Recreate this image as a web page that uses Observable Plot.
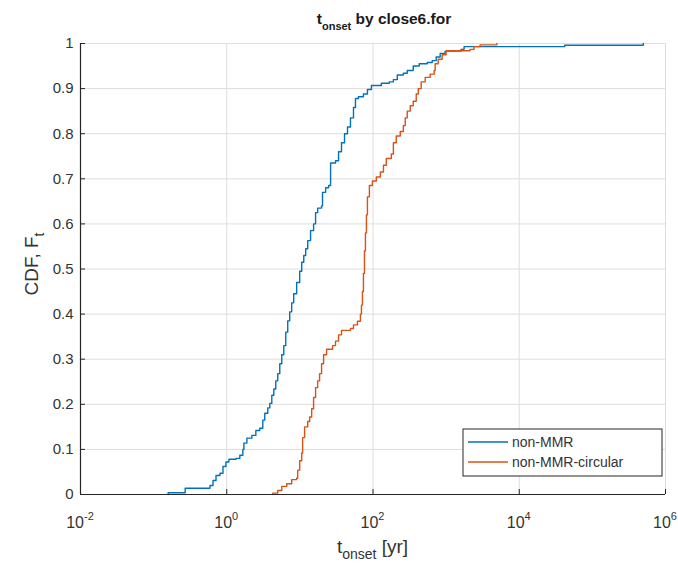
<!DOCTYPE html>
<html>
<head>
<meta charset="utf-8">
<script src="https://cdn.jsdelivr.net/npm/d3@7"></script>
<script src="https://cdn.jsdelivr.net/npm/@observablehq/plot@0.6"></script>
<style>
  html, body { margin: 0; padding: 0; background: #fff; }
  #chart svg { display: block; font-family: "Liberation Sans", Arial, Helvetica, sans-serif; }
</style>
</head>
<body>
<div id="chart"></div>
<script>
// Empirical CDFs of the onset time (yr) for the two runs of close6.for.
// Each onset value is where the staircase steps up to the matching CDF value.
const nonMmrOnset = [
  0.158, 0.158, 0.27, 0.59, 0.649, 0.713, 0.808, 0.888, 0.975, 1.07, 1.335, 1.51, 1.66, 1.715,
  1.885, 2.205, 2.5, 2.83, 3.11, 3.31, 3.64, 3.88, 4.13, 4.4, 4.68, 4.98, 5.31, 5.65, 6.02,
  6.41, 6.82, 7.26, 7.73, 8.23, 9.04, 9.94, 10.6, 11.3, 12.0, 12.8, 14.0, 15.4, 16.4, 17.5,
  19.8, 20.4, 22.5, 24.7, 26.3, 30.7, 33.8, 37.1, 40.8, 44.8, 49.2, 54.1, 57.6, 63.2, 74.0,
  83.9, 95.1, 130, 167, 190, 215, 260, 294, 355, 429, 551, 645, 731, 829, 969, 1600, 1760,
  41800, 498000
];
const nonMmrCdf = [
  0, 0.004, 0.014, 0.020, 0.031, 0.042, 0.047, 0.062, 0.072, 0.078, 0.080, 0.087, 0.100, 0.114,
  0.125, 0.131, 0.142, 0.147, 0.165, 0.180, 0.192, 0.202, 0.220, 0.234, 0.252, 0.268, 0.290, 0.310, 0.330,
  0.360, 0.385, 0.405, 0.425, 0.445, 0.470, 0.495, 0.515, 0.530, 0.545, 0.563, 0.585, 0.600, 0.625, 0.635,
  0.640, 0.670, 0.680, 0.685, 0.735, 0.740, 0.760, 0.780, 0.800, 0.815, 0.835, 0.858, 0.878, 0.882, 0.888,
  0.898, 0.907, 0.912, 0.915, 0.920, 0.930, 0.934, 0.940, 0.950, 0.955, 0.958, 0.962, 0.970, 0.978, 0.983, 0.987, 0.993,
  0.996, 1.0
];
const circularOnset = [
  4.26, 4.26, 4.98, 5.65, 6.61, 7.73, 9.04, 9.33, 9.94, 10.6, 10.9, 11.6, 12.8, 13.6, 14.5,
  15.4, 16.4, 17.5, 18.6, 19.8, 21.1, 23.2, 28.0, 30.7, 33.8, 37.1, 49.2, 54.1, 61.3, 67.3,
  69.5, 71.7, 74.0, 76.4, 78.8, 81.3, 83.9, 89.3, 98.1, 111, 126, 139, 152, 178, 190, 208,
  236, 260, 276, 294, 323, 355, 390, 416, 456, 517, 605, 686, 708, 778, 882, 1000, 2120,
  2410, 2910, 4950
];
const circularCdf = [
  0, 0.003, 0.009, 0.018, 0.024, 0.033, 0.036, 0.054, 0.075, 0.092, 0.126, 0.150, 0.162, 0.172, 0.190,
  0.215, 0.237, 0.252, 0.268, 0.290, 0.310, 0.322, 0.330, 0.340, 0.354, 0.364, 0.368, 0.376, 0.384, 0.400,
  0.420, 0.450, 0.490, 0.540, 0.580, 0.620, 0.660, 0.685, 0.695, 0.704, 0.715, 0.730, 0.745, 0.755, 0.780, 0.795,
  0.805, 0.818, 0.835, 0.850, 0.862, 0.872, 0.888, 0.900, 0.915, 0.925, 0.932, 0.940, 0.955, 0.965, 0.975, 0.984, 0.987,
  0.993, 0.997, 1.0
];

const seriesNames = ["non-MMR", "non-MMR-circular"];
const seriesColors = ["#0072BD", "#D95319"];

const xTicks = [1e-2, 1e0, 1e2, 1e4, 1e6];
const xTickExponents = ["-2", "0", "2", "4", "6"];
const yTicks = [0, 0.1, 0.2, 0.3, 0.4, 0.5, 0.6, 0.7, 0.8, 0.9, 1];
const yTickLabels = ["0", "0.1", "0.2", "0.3", "0.4", "0.5", "0.6", "0.7", "0.8", "0.9", "1"];

const rows = [
  ...nonMmrOnset.map((t, i) => ({t, F: nonMmrCdf[i], series: seriesNames[0]})),
  ...circularOnset.map((t, i) => ({t, F: circularCdf[i], series: seriesNames[1]}))
];

const W = 678, H = 565;
const mL = 80, mR = 13, mT = 43, mB = 71;
const frameW = W - mL - mR, frameH = H - mT - mB;
const axisColor = "#262626";
const gridColor = "#dedede";

const plot = Plot.plot({
  width: W,
  height: H,
  marginLeft: mL,
  marginRight: mR,
  marginTop: mT,
  marginBottom: mB,
  style: {background: "#fff", fontFamily: "'Liberation Sans', Arial, sans-serif"},
  x: {type: "log", domain: [1e-2, 1e6]},
  y: {domain: [0, 1]},
  color: {domain: seriesNames, range: seriesColors},
  marks: [
    Plot.gridX(xTicks, {stroke: gridColor, strokeOpacity: 1, strokeWidth: 1}),
    Plot.gridY(yTicks, {stroke: gridColor, strokeOpacity: 1, strokeWidth: 1}),
    Plot.line(rows, {x: "t", y: "F", z: "series", stroke: "series", curve: "step-after", strokeWidth: 1.4}),
    Plot.axisX(xTicks, {tickSize: 0, tickFormat: () => "", label: null}),
    Plot.axisY(yTicks, {
      tickSize: 0, tickPadding: 7, label: null, fontSize: 15, color: "#333",
      tickFormat: d => yTickLabels[yTicks.indexOf(d)]
    }),
    // inward tick marks, as on the original axes
    Plot.tickY(yTicks, {y: d => d, stroke: axisColor, insetRight: frameW - 5}),
    Plot.tickX(xTicks, {x: d => d, stroke: axisColor, insetTop: frameH - 5}),
    Plot.ruleX([1e-2], {stroke: axisColor, strokeWidth: 1.2}),
    Plot.ruleY([0], {stroke: axisColor, strokeWidth: 1.2})
  ]
});

document.getElementById("chart").appendChild(plot);

const svg = d3.select(plot);
const xs = plot.scale("x");
const textColor = "#333";

// Power-of-ten tick labels under the x axis
xTicks.forEach((v, i) => {
  const t = svg.append("text")
    .attr("x", xs.apply(v))
    .attr("y", 528)
    .attr("text-anchor", "middle")
    .attr("fill", textColor)
    .attr("font-size", 16);
  t.append("tspan").text("10");
  t.append("tspan").attr("dy", -8).attr("font-size", 11).text(xTickExponents[i]);
});

// Title
const title = svg.append("text")
  .attr("x", 384)
  .attr("y", 24)
  .attr("text-anchor", "middle")
  .attr("font-weight", "bold")
  .attr("font-size", 15.5)
  .attr("fill", "#1a1a1a");
title.append("tspan").text("t");
title.append("tspan").attr("dy", 6).attr("font-size", 11).text("onset");
title.append("tspan").attr("dy", -6).text(" by close6.for");

// x axis label
const xLabel = svg.append("text")
  .attr("x", (xs.range[0] + xs.range[1]) / 2)
  .attr("y", 553)
  .attr("text-anchor", "middle")
  .attr("font-size", 19)
  .attr("fill", textColor);
xLabel.append("tspan").text("t");
xLabel.append("tspan").attr("dy", 6).attr("font-size", 14).text("onset");
xLabel.append("tspan").attr("dy", -6).text(" [yr]");

// y axis label
const yLabel = svg.append("text")
  .attr("transform", "translate(38,264) rotate(-90)")
  .attr("text-anchor", "middle")
  .attr("font-size", 19)
  .attr("fill", textColor);
yLabel.append("tspan").text("CDF, F");
yLabel.append("tspan").attr("dy", 6).attr("font-size", 14).text("t");

// Legend box in the lower right corner
const lg = svg.append("g").attr("transform", "translate(463,429)");
lg.append("rect")
  .attr("width", 199).attr("height", 47)
  .attr("fill", "#fff").attr("stroke", axisColor).attr("stroke-width", 1);
seriesNames.forEach((name, i) => {
  const yy = 13 + i * 20;
  lg.append("line")
    .attr("x1", 5).attr("x2", 45).attr("y1", yy).attr("y2", yy)
    .attr("stroke", seriesColors[i]).attr("stroke-width", 1.4);
  lg.append("text")
    .attr("x", 49).attr("y", yy + 5)
    .attr("text-anchor", "start")
    .attr("font-size", 14).attr("fill", textColor)
    .text(name);
});
</script>
</body>
</html>
